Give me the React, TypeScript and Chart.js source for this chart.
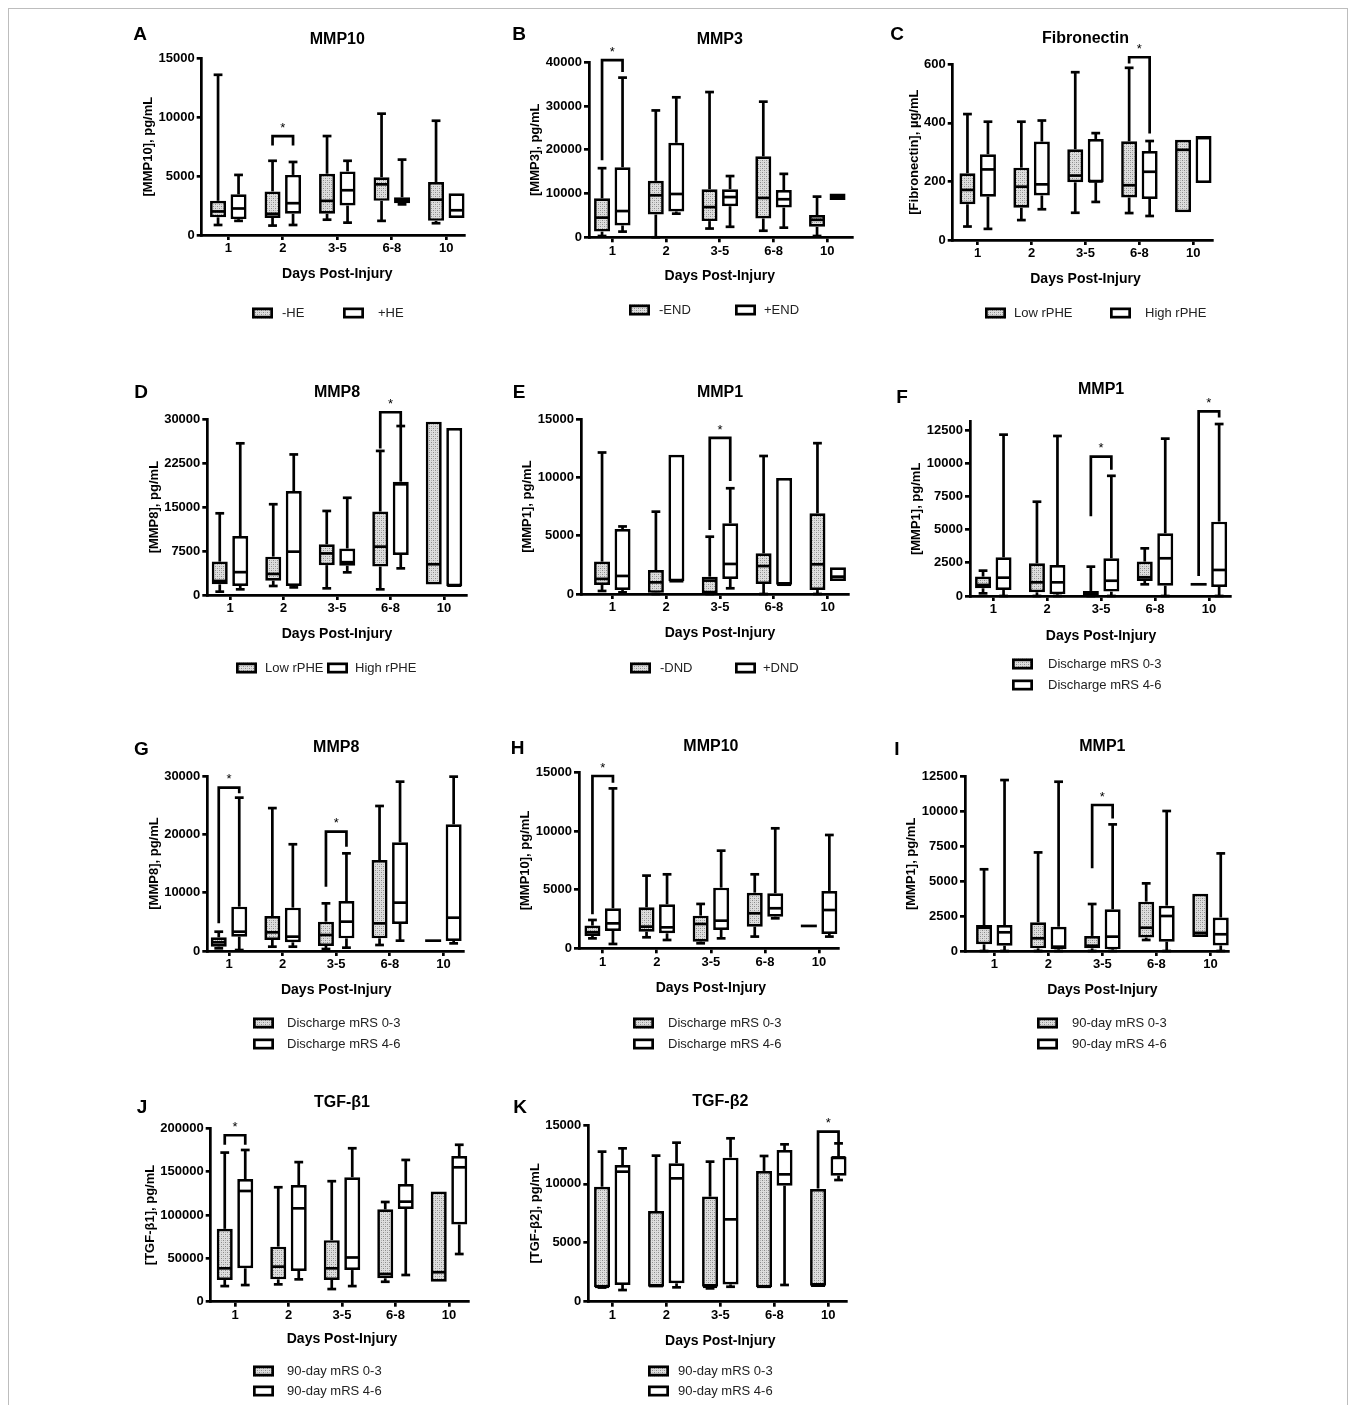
import React, { useEffect, useRef } from "react";
import { Chart, registerables } from "chart.js";
Chart.register(...registerables);

// ---------- data ----------
const categories = ["1", "2", "3-5", "6-8", "10"];
// each box: [min, q1, median, q3, max]
const aLow = [[850, 1500, 2000, 2900, 13600], [800, 1450, 1800, 3700, 6300], [1300, 1800, 2900, 5200, 8400], [1200, 2900, 4300, 4900, 10300], [1000, 1200, 3000, 4500, 9700]];
const aHigh = [[1200, 1350, 2250, 3450, 5100], [850, 1800, 2700, 5100, 6200], [1050, 2500, 3800, 5400, 6300], [2600, 2700, 3000, 3200, 6400], [1450, 1450, 2100, 3550, 3550]];
const aBrackets = [[1, 7600, 7600, 8400]];

const bLow = [[300, 1300, 4500, 8900, 15800], [0, 5200, 9600, 12900, 29000], [2000, 3700, 6900, 11000, 33200], [1500, 4300, 9000, 18500, 31000], [300, 2400, 4000, 5100, 9300]];
const bHigh = [[1300, 2700, 6000, 16000, 36500], [5400, 5900, 9900, 21600, 32000], [2400, 7100, 9200, 11000, 14000], [2200, 6800, 8700, 10800, 14500], [8500, 8500, 9250, 10000, 10000]];
const bBrackets = [[0, 17600, 37800, 40500]];

const cLow = [[46, 122, 171, 228, 430], [68, 110, 182, 247, 404], [93, 197, 220, 310, 573], [92, 145, 187, 337, 588], [95, 95, 308, 342, 342]];
const cHigh = [[38, 148, 241, 293, 404], [105, 152, 190, 336, 408], [130, 197, 200, 345, 365], [82, 140, 233, 304, 338], [195, 195, 348, 355, 355]];
const cBrackets = [[3, 603, 364, 624]];

const dLow = [[570, 1820, 2400, 5700, 13950], [1540, 2450, 3600, 6550, 15500], [1140, 5100, 7100, 8650, 14350], [970, 4850, 8250, 14250, 24600], [1800, 1800, 5250, 29600, 29600]];
const dHigh = [[970, 1540, 3900, 10070, 25900], [1300, 1540, 7400, 17750, 24000], [3870, 5000, 5600, 7950, 16600], [4550, 6830, 18900, 19350, 28850], [1500, 1500, 1600, 28500, 28500]];
const dBrackets = [[3, 25000, 29000, 31200]];

const eLow = [[260, 770, 1300, 2780, 12150], [0, 100, 1000, 2060, 7070], [0, 60, 1150, 1490, 4920], [0, 860, 2400, 3490, 11850], [0, 340, 2550, 6930, 12950]];
const eHigh = [[140, 340, 1550, 5580, 5800], [1100, 1100, 1100, 11950, 11950], [490, 1290, 2580, 6070, 9080], [800, 800, 800, 9950, 9950], [1120, 1120, 1490, 2290, 2290]];
const eBrackets = [[2, 5500, 9700, 13400]];

const fLow = [[200, 580, 830, 1460, 1910], [0, 280, 1030, 2460, 7100], [0, 80, 200, 380, 2210], [880, 1130, 1410, 2590, 3590], [880, 880, 880, 880, 880]];
const fHigh = [[0, 450, 1380, 2910, 12150], [0, 130, 1030, 2330, 12050], [0, 330, 1150, 2840, 9050], [0, 780, 2840, 4720, 11850], [0, 680, 1960, 5600, 12950]];
const fBrackets = [[2, 6000, 9500, 10500], [4, 1500, 13450, 13900]];

const gLow = [[460, 740, 1490, 2340, 3310], [740, 1890, 3200, 6000, 24500], [340, 860, 2740, 5030, 8170], [1030, 2170, 4740, 15600, 24860], [1770, 1770, 1770, 1770, 1770]];
const gHigh = [[170, 2460, 3310, 7600, 26290], [740, 1490, 2460, 7430, 18300], [570, 2170, 5030, 8570, 16740], [1770, 4630, 8290, 18630, 29030], [1310, 1710, 5710, 21710, 29890]];
const gBrackets = [[0, 4740, 27030, 28000], [2, 11030, 17890, 20460]];

const hLow = [[850, 1050, 1370, 1940, 2420], [940, 1420, 1850, 3500, 6210], [430, 570, 2080, 2790, 3790], [1000, 1850, 2990, 4750, 6320], [1910, 1910, 1910, 1910, 1910]];
const hHigh = [[370, 1480, 2130, 3420, 13660], [710, 1280, 1790, 3760, 6320], [850, 1570, 2360, 5180, 8340], [2560, 2700, 3420, 4700, 10250], [1000, 1220, 3270, 4900, 9680]];
const hBrackets = [[0, 2900, 14150, 14720]];

const iLow = [[0, 480, 1670, 1860, 5860], [0, 190, 910, 2060, 7070], [0, 190, 380, 1080, 3370], [790, 960, 1670, 3540, 4850], [1000, 1000, 1300, 4100, 4100]];
const iHigh = [[0, 380, 1340, 1860, 12260], [0, 120, 310, 1740, 12140], [0, 120, 1030, 2990, 9080], [0, 670, 2510, 3250, 10040], [0, 400, 1200, 2400, 7000]];
const iBrackets = [[2, 5930, 9510, 10470]];

const jLow = [[18000, 25000, 38500, 84000, 172000], [20000, 25800, 40400, 63500, 132000], [14600, 25000, 38500, 71000, 139000], [23000, 27000, 32000, 106500, 115000], [23000, 23000, 34000, 127000, 127000]];
const jHigh = [[19200, 38500, 127700, 141500, 175000], [25800, 35400, 107700, 134600, 161000], [18000, 36500, 51000, 143500, 177000], [30800, 107000, 115400, 135800, 163500], [55000, 89000, 155000, 168000, 181000]];
const jBrackets = [[0, 181000, 181000, 192000]];

const kLow = [[1200, 1220, 1270, 9760, 12740], [1270, 1270, 1330, 7700, 12400], [1130, 1270, 1270, 8920, 11890], [1220, 1220, 1270, 11100, 12370], [1360, 1360, 1360, 9570, 9570]];
const kHigh = [[990, 1420, 11040, 11600, 13020], [1220, 1560, 10470, 11750, 13500], [1270, 1470, 6990, 12230, 13870], [1420, 9850, 10810, 12880, 13360], [10330, 10700, 12250, 12310, 13440]];
const kBrackets = [[4, 9620, 13440, 14430]];

const ticks15k = [0, 5000, 10000, 15000];
const ticks40k = [0, 10000, 20000, 30000, 40000];
const ticks600 = [0, 200, 400, 600];
const ticks30kQ = [0, 7500, 15000, 22500, 30000];
const ticks12k5 = [0, 2500, 5000, 7500, 10000, 12500];
const ticks30k = [0, 10000, 20000, 30000];
const ticks200k = [0, 50000, 100000, 150000, 200000];

const legHE = ["-HE", "+HE"];
const legEND = ["-END", "+END"];
const legRPHE = ["Low rPHE", "High rPHE"];
const legDND = ["-DND", "+DND"];
const legDis = ["Discharge mRS 0-3", "Discharge mRS 4-6"];
const leg90 = ["90-day mRS 0-3", "90-day mRS 4-6"];

// ---------- panel descriptions ----------
type Panel = {
  letter: string; title: string; yTitle: string; yTicks: number[]; axisMax: number;
  low: number[][]; high: number[][]; brackets: number[][]; legend: string[];
};
const panels: Panel[] = [
  { letter: "A", title: "MMP10", yTitle: "[MMP10], pg/mL", yTicks: ticks15k, axisMax: 15000, low: aLow, high: aHigh, brackets: aBrackets, legend: legHE },
  { letter: "B", title: "MMP3", yTitle: "[MMP3], pg/mL", yTicks: ticks40k, axisMax: 40000, low: bLow, high: bHigh, brackets: bBrackets, legend: legEND },
  { letter: "C", title: "Fibronectin", yTitle: "[Fibronectin], µg/mL", yTicks: ticks600, axisMax: 600, low: cLow, high: cHigh, brackets: cBrackets, legend: legRPHE },
  { letter: "D", title: "MMP8", yTitle: "[MMP8], pg/mL", yTicks: ticks30kQ, axisMax: 30000, low: dLow, high: dHigh, brackets: dBrackets, legend: legRPHE },
  { letter: "E", title: "MMP1", yTitle: "[MMP1], pg/mL", yTicks: ticks15k, axisMax: 15000, low: eLow, high: eHigh, brackets: eBrackets, legend: legDND },
  { letter: "F", title: "MMP1", yTitle: "[MMP1], pg/mL", yTicks: ticks12k5, axisMax: 13125, low: fLow, high: fHigh, brackets: fBrackets, legend: legDis },
  { letter: "G", title: "MMP8", yTitle: "[MMP8], pg/mL", yTicks: ticks30k, axisMax: 30000, low: gLow, high: gHigh, brackets: gBrackets, legend: legDis },
  { letter: "H", title: "MMP10", yTitle: "[MMP10], pg/mL", yTicks: ticks15k, axisMax: 15000, low: hLow, high: hHigh, brackets: hBrackets, legend: legDis },
  { letter: "I", title: "MMP1", yTitle: "[MMP1], pg/mL", yTicks: ticks12k5, axisMax: 12500, low: iLow, high: iHigh, brackets: iBrackets, legend: leg90 },
  { letter: "J", title: "TGF-β1", yTitle: "[TGF-β1], pg/mL", yTicks: ticks200k, axisMax: 200000, low: jLow, high: jHigh, brackets: jBrackets, legend: leg90 },
  { letter: "K", title: "TGF-β2", yTitle: "[TGF-β2], pg/mL", yTicks: ticks15k, axisMax: 15000, low: kLow, high: kHigh, brackets: kBrackets, legend: leg90 },
];

// ---------- layout (page pixels) ----------
type Geo = {
  cx: number; cy: number; cw: number; ch: number;
  left: number; top: number; bottom: number; right: number; c1: number; w: number;
  titleY: number; letterX: number; letterY: number; daysY: number; leg: number[][];
};
const geos: Geo[] = [
  { cx: 125, cy: 18, cw: 360, ch: 320, left: 201.7, top: 58.3, bottom: 235, right: 464, c1: 228.3, w: 54.5, titleY: 40, letterX: 140, letterY: 35, daysY: 274, leg: [[252, 282, 313], [343, 378, 313]] },
  { cx: 500, cy: 18, cw: 370, ch: 320, left: 589, top: 62.3, bottom: 237.3, right: 852, c1: 612.3, w: 53.75, titleY: 40, letterX: 519, letterY: 35, daysY: 276, leg: [[629, 659, 310], [735, 764, 310]] },
  { cx: 880, cy: 18, cw: 360, ch: 320, left: 952.7, top: 64.3, bottom: 240, right: 1212, c1: 977.7, w: 53.9, titleY: 39, letterX: 897, letterY: 35, daysY: 279, leg: [[985, 1014, 313], [1110, 1145, 313]] },
  { cx: 125, cy: 372, cw: 360, ch: 320, left: 207.3, top: 419.3, bottom: 595, right: 466, c1: 230, w: 53.5, titleY: 393, letterX: 141, letterY: 393, daysY: 634, leg: [[236, 265, 668], [327, 355, 668]] },
  { cx: 500, cy: 372, cw: 370, ch: 320, left: 581, top: 419.3, bottom: 594, right: 848, c1: 612.3, w: 53.85, titleY: 393, letterX: 519, letterY: 393, daysY: 633, leg: [[630, 660, 668], [735, 763, 668]] },
  { cx: 880, cy: 372, cw: 360, ch: 330, left: 970, top: 421.7, bottom: 596, right: 1230, c1: 993.3, w: 53.9, titleY: 390, letterX: 902, letterY: 398, daysY: 636, leg: [[1012, 1048, 664], [1012, 1048, 685]] },
  { cx: 125, cy: 728, cw: 360, ch: 330, left: 207.3, top: 776, bottom: 951, right: 463, c1: 229, w: 53.6, titleY: 748, letterX: 141.5, letterY: 750, daysY: 990, leg: [[253, 287, 1023], [253, 287, 1044]] },
  { cx: 500, cy: 728, cw: 370, ch: 330, left: 579, top: 772.7, bottom: 948.3, right: 838, c1: 602.7, w: 54.1, titleY: 747, letterX: 517.5, letterY: 749, daysY: 988, leg: [[633, 668, 1023], [633, 668, 1044]] },
  { cx: 880, cy: 728, cw: 360, ch: 330, left: 965, top: 776.7, bottom: 951, right: 1228, c1: 994.3, w: 54.05, titleY: 747, letterX: 897, letterY: 750, daysY: 990, leg: [[1037, 1072, 1023], [1037, 1072, 1044]] },
  { cx: 125, cy: 1082, cw: 360, ch: 320, left: 210.7, top: 1128.3, bottom: 1301.7, right: 468, c1: 235, w: 53.5, titleY: 1103, letterX: 142, letterY: 1108, daysY: 1339, leg: [[253, 287, 1371], [253, 287, 1391]] },
  { cx: 500, cy: 1082, cw: 370, ch: 320, left: 588.3, top: 1125, bottom: 1301.7, right: 846, c1: 612.3, w: 54, titleY: 1102, letterX: 520, letterY: 1108, daysY: 1341, leg: [[648, 678, 1371], [648, 678, 1391]] },
];

const FONT = '"Liberation Sans", Arial, Helvetica, sans-serif';
const LW = 2.7;

function makePattern(): CanvasPattern | string {
  const c = document.createElement("canvas");
  c.width = 4; c.height = 4;
  const g = c.getContext("2d");
  if (!g) return "#cccccc";
  g.fillStyle = "#dedede"; g.fillRect(0, 0, 4, 4);
  g.fillStyle = "#8a8a8a"; g.fillRect(0, 0, 1, 1); g.fillRect(2, 2, 1, 1);
  g.fillStyle = "#b5b5b5"; g.fillRect(2, 0, 1, 1); g.fillRect(0, 2, 1, 1);
  return g.createPattern(c, "repeat") || "#cccccc";
}

function PanelChart({ p, g }: { p: Panel; g: Geo }) {
  const ref = useRef<HTMLCanvasElement | null>(null);
  useEffect(() => {
    if (!ref.current) return;
    const pattern = makePattern();
    const slot = 20.5;
    const cp = (2 * slot) / g.w;
    const bp = 16 / slot;
    const xmin = -(g.c1 - g.left) / g.w;
    const xmax = 4 + (g.right - (g.c1 + 4 * g.w)) / g.w;

    const deco = {
      id: "deco",
      afterDatasetsDraw(chart: any) {
        const ctx: CanvasRenderingContext2D = chart.ctx;
        const ys = chart.scales.y;
        const yv = (v: number) => ys.getPixelForValue(v);
        ctx.save();
        ctx.strokeStyle = "#000";
        ctx.lineWidth = LW;
        ctx.lineCap = "butt";
        const line = (x1: number, y1: number, x2: number, y2: number) => {
          ctx.beginPath(); ctx.moveTo(x1, y1); ctx.lineTo(x2, y2); ctx.stroke();
        };
        const xs: number[][] = [[], []];
        [p.low, p.high].forEach((boxes, di) => {
          const meta = chart.getDatasetMeta(di);
          boxes.forEach((b, i) => {
            const el = meta.data[i];
            const { x, width } = el.getProps(["x", "width"], true);
            xs[di][i] = x;
            const [mn, q1, md, q3, mx] = b;
            const cap = width * 0.55;
            if (mx > q3) { line(x, yv(q3), x, yv(mx)); line(x - cap / 2, yv(mx), x + cap / 2, yv(mx)); }
            if (mn < q1) { line(x, yv(q1), x, yv(mn)); line(x - cap / 2, yv(mn), x + cap / 2, yv(mn)); }
            line(x - width / 2 + (q3 > q1 ? 1 : 0), yv(md), x + width / 2 - (q3 > q1 ? 1 : 0), yv(md));
          });
        });
        ctx.lineJoin = "miter";
        p.brackets.forEach(([c, lb, rb, top]) => {
          const lx = xs[0][c], rx = xs[1][c];
          ctx.beginPath();
          ctx.moveTo(lx, yv(lb)); ctx.lineTo(lx, yv(top)); ctx.lineTo(rx, yv(top)); ctx.lineTo(rx, yv(rb));
          ctx.stroke();
          ctx.fillStyle = "#000";
          ctx.font = `13px ${FONT}`;
          ctx.textAlign = "center"; ctx.textBaseline = "middle";
          ctx.fillText("*", (lx + rx) / 2, yv(top) - 8);
        });
        ctx.restore();
      },
      afterDraw(chart: any) {
        const ctx: CanvasRenderingContext2D = chart.ctx;
        const xsc = chart.scales.x;
        const ys = chart.scales.y;
        ctx.save();
        ctx.fillStyle = "#000";
        ctx.textAlign = "center"; ctx.textBaseline = "middle";
        ctx.font = `bold 19px ${FONT}`;
        ctx.fillText(p.letter, g.letterX - g.cx, g.letterY - g.cy);
        const midX = xsc.getPixelForValue(2);
        ctx.font = `bold 16px ${FONT}`;
        ctx.fillText(p.title, midX, g.titleY - g.cy);
        ctx.font = `bold 14px ${FONT}`;
        ctx.fillText("Days Post-Injury", midX, g.daysY - g.cy);
        ctx.font = `bold 13px ${FONT}`;
        let maxW = 0;
        p.yTicks.forEach((t) => { maxW = Math.max(maxW, ctx.measureText(String(t)).width); });
        const tx = chart.chartArea.left - 7 - maxW - 10;
        ctx.font = `bold 13px ${FONT}`;
        ctx.translate(tx, (ys.top + ys.bottom) / 2);
        ctx.rotate(-Math.PI / 2);
        ctx.fillText(p.yTitle, 0, 0);
        ctx.setTransform(1, 0, 0, 1, 0, 0);
        ctx.font = `13px ${FONT}`;
        ctx.textAlign = "left";
        g.leg.forEach(([bx, tx2, ly], k) => {
          const x0 = bx - g.cx, y0 = ly - g.cy - 5.5;
          ctx.fillStyle = k === 0 ? (pattern as any) : "#fff";
          ctx.fillRect(x0, y0, 21, 11);
          ctx.strokeStyle = "#000"; ctx.lineWidth = LW;
          ctx.strokeRect(x0 + LW / 2, y0 + LW / 2, 21 - LW, 11 - LW);
          ctx.fillStyle = "#222";
          ctx.fillText(p.legend[k], tx2 - g.cx, ly - g.cy + 0.5);
        });
        ctx.restore();
      },
    };

    const mk = (boxes: number[][], label: string, bg: any) => ({
      label,
      data: boxes.map((b, i) => ({ x: i, y: [b[1], b[3]] })),
      backgroundColor: bg,
      borderColor: "#000",
      borderWidth: LW,
      borderSkipped: false,
      categoryPercentage: cp,
      barPercentage: bp,
      clip: false as any,
    });

    const tickFont = { family: FONT, size: 13, weight: "bold" as any };
    const chart = new Chart(ref.current, {
      type: "bar",
      data: { datasets: [mk(p.low, p.legend[0], pattern), mk(p.high, p.legend[1], "#ffffff")] as any },
      options: {
        responsive: false,
        animation: false,
        events: [],
        layout: { padding: { left: 0, top: g.top - g.cy, right: g.cx + g.cw - g.right, bottom: 0 } },
        plugins: { legend: { display: false }, title: { display: false }, tooltip: { enabled: false } },
        scales: {
          x: {
            type: "linear", min: xmin, max: xmax, offset: false, bounds: "data",
            afterFit: (s: any) => { s.height = g.cy + g.ch - g.bottom; },
            afterBuildTicks: (s: any) => { s.ticks = categories.map((_, i) => ({ value: i })); },
            ticks: { callback: (v: any) => categories[Math.round(Number(v))] ?? "", font: tickFont, color: "#000", padding: 1, autoSkip: false, maxRotation: 0 },
            grid: { offset: false, drawOnChartArea: false, drawTicks: true, tickLength: 5, tickColor: "#000", tickWidth: LW, color: "#000", lineWidth: LW },
            border: { display: true, color: "#000", width: LW },
          },
          y: {
            type: "linear", min: 0, max: p.axisMax, bounds: "data",
            afterFit: (s: any) => { s.width = g.left - g.cx; },
            afterBuildTicks: (s: any) => { s.ticks = p.yTicks.map((v) => ({ value: v })); },
            ticks: { callback: (v: any) => String(v), font: tickFont, color: "#000", padding: 2 },
            grid: { drawOnChartArea: false, drawTicks: true, tickLength: 5, tickColor: "#000", tickWidth: LW, color: "#000", lineWidth: LW },
            border: { display: true, color: "#000", width: LW },
          },
        },
      } as any,
      plugins: [deco as any],
    });
    return () => chart.destroy();
  }, [p, g]);
  return (
    <canvas
      ref={ref}
      width={g.cw}
      height={g.ch}
      style={{ position: "absolute", left: g.cx, top: g.cy, width: g.cw, height: g.ch }}
    />
  );
}

export default function App() {
  return (
    <div style={{ position: "absolute", left: 0, top: 0, width: 1357, height: 1405, background: "#fff", overflow: "hidden" }}>
      <div style={{ position: "absolute", left: 8, top: 8, width: 1340, height: 1402, border: "1px solid #bdbdbd", boxSizing: "border-box" }} />
      {panels.map((p, i) => (
        <PanelChart key={p.letter} p={p} g={geos[i]} />
      ))}
    </div>
  );
}
